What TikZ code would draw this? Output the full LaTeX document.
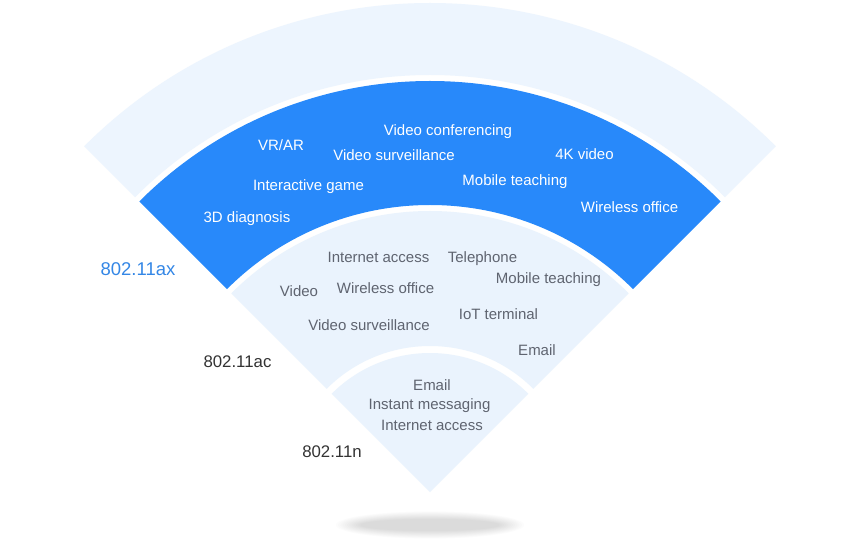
\documentclass[tikz,border=0pt]{standalone}
\usepackage{fontspec}
\setmainfont{Liberation Sans}
\usepackage{tikz}
\usetikzlibrary{positioning,shapes}

\definecolor{axblue}{RGB}{40,137,250}
\definecolor{bandlight}{RGB}{234,243,253}
\definecolor{bandouter}{RGB}{237,245,254}
\definecolor{usegray}{RGB}{95,100,112}
\definecolor{stdgray}{RGB}{51,51,51}
\definecolor{stdblue}{RGB}{52,135,230}

\tikzstyle{useax}  = [text=white, font=\fontsize{15}{17}\selectfont, text height=1.6ex, text depth=.3ex, inner sep=0pt]
\tikzstyle{useold} = [text=usegray, font=\fontsize{15}{17}\selectfont, text height=1.6ex, text depth=.3ex, inner sep=0pt]
\tikzstyle{stdname} = [text=stdgray, font=\fontsize{16.8}{19}\selectfont, text height=1.6ex, text depth=.3ex, inner sep=0pt]

\begin{document}
\begin{tikzpicture}[x=1pt,y=1pt]
		\useasboundingbox[fill=white] (-430,-55) rectangle (430,492);

		% bands of the fan
		\fill[bandouter] (45:417pt) arc (45:135:417pt) -- (135:489pt) arc (135:45:489pt) -- cycle;
		\fill[axblue] (45:287pt) arc (45:135:287pt) -- (135:411pt) arc (135:45:411pt) -- cycle;
		\fill[bandlight] (45:146pt) arc (45:135:146pt) -- (135:281pt) arc (135:45:281pt) -- cycle;
		\fill[bandlight] (0,0) -- (45:139pt) arc (45:135:139pt) -- cycle;

		% soft shadow under the tip
		\foreach \k in {0,...,11}
			\fill[black, opacity=0.012] (0,-33) ellipse ({70+2.2*\k} and {6+0.7*\k});

		% 802.11ax
		\node[useax] (axconf) at (18,360) {Video conferencing};
		\node[useax] (axvr) at (-149,345) {VR/AR};
		\node[useax] (axsurv) at (-36,335) {Video surveillance};
		\node[useax] (axfourk) at (154.5,336) {4K video};
		\node[useax] (axgame) at (-121.5,305) {Interactive game};
		\node[useax] (axteach) at (85,310) {Mobile teaching};
		\node[useax] (axdiag) at (-183,273) {3D diagnosis};
		\node[useax] (axoffice) at (199.5,283) {Wireless office};

		% 802.11ac
		\node[useold] (acnet) at (-51.5,233) {Internet access};
		\node[useold] (acphone) at (52.5,233) {Telephone};
		\node[useold] (acteach) at (118.5,212) {Mobile teaching};
		\node[useold] (acvideo) at (-131,199) {Video};
		\node[useold] (acoffice) at (-44.5,202) {Wireless office};
		\node[useold] (aciot) at (68.5,176) {IoT terminal};
		\node[useold] (acsurv) at (-61,165) {Video surveillance};
		\node[useold] (acmail) at (107,140) {Email};

		% 802.11n
		\node[useold] (nmail) at (2,105) {Email};
		\node[useold] (nchat) at (-0.5,86) {Instant messaging};
		\node[useold] (nnet) at (2,65) {Internet access};

		% standard names
		\node[stdname, text=stdblue, font=\fontsize{18.5}{21}\selectfont] (stdax) at (-292,220) {802.11ax};
		\node[stdname] (stdac) at (-192.5,128) {802.11ac};
		\node[stdname] (stdn) at (-98,38) {802.11n};
	\end{tikzpicture}
\end{document}
